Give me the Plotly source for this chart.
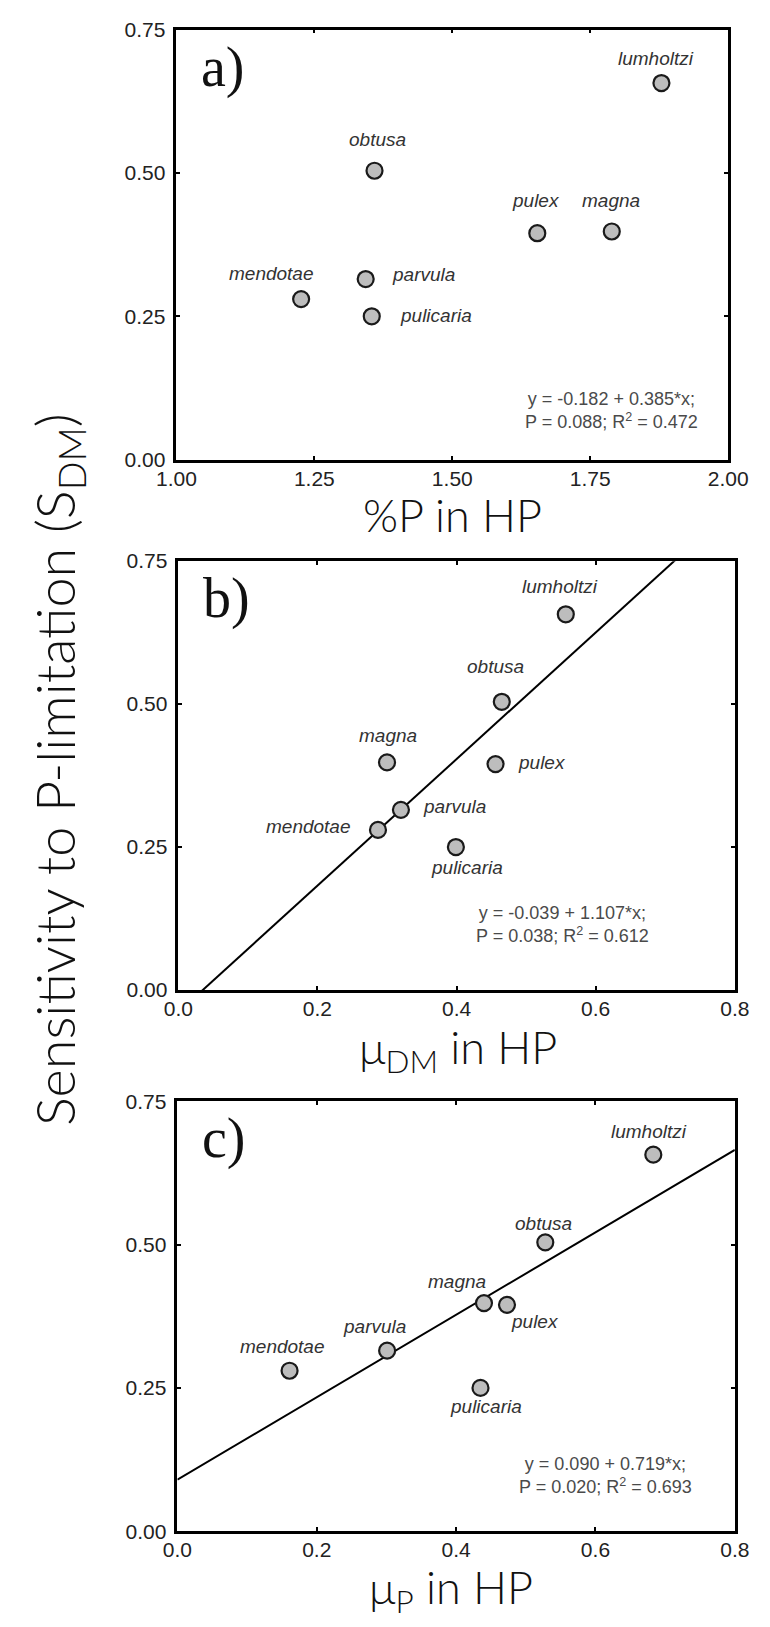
import plotly.graph_objects as go

# ---------------- data ----------------
species = ["lumholtzi", "obtusa", "magna", "pulex", "parvula", "mendotae", "pulicaria"]
s_dm = [0.657, 0.504, 0.398, 0.395, 0.315, 0.280, 0.250]          # Sensitivity to P-limitation
pct_p = [1.879, 1.359, 1.789, 1.654, 1.343, 1.226, 1.354]         # %P in HP
mu_dm = [0.557, 0.465, 0.300, 0.456, 0.320, 0.287, 0.399]         # mu_DM in HP
mu_p = [0.683, 0.528, 0.440, 0.473, 0.301, 0.161, 0.435]          # mu_P in HP

fit_b = (-0.039, 1.107)   # intercept, slope
fit_c = (0.090, 0.719)

stats_a = "y = -0.182 + 0.385*x;<br>P = 0.088; R<sup>2</sup> = 0.472"
stats_b = "y = -0.039 + 1.107*x;<br>P = 0.038; R<sup>2</sup> = 0.612"
stats_c = "y = 0.090 + 0.719*x;<br>P = 0.020; R<sup>2</sup> = 0.693"

y_ticks = [0.0, 0.25, 0.50, 0.75]
y_ticktext = ["0.00", "0.25", "0.50", "0.75"]
xa_ticks = [1.0, 1.25, 1.5, 1.75, 2.0]
xa_ticktext = ["1.00", "1.25", "1.50", "1.75", "2.00"]
xb_ticks = [0.0, 0.2, 0.4, 0.6, 0.8]
xb_ticktext = ["0.0", "0.2", "0.4", "0.6", "0.8"]

# ---------------- layout / style ----------------
W, H = 770, 1627

# label offsets in pixels (dx right, dy down, anchor)
offs_a = {"lumholtzi": (-5, -25, "center"), "obtusa": (3, -31, "center"), "magna": (-1, -31, "center"),
          "pulex": (-1, -33, "center"), "parvula": (24, -5, "left"), "mendotae": (-30, -26, "center"),
          "pulicaria": (26, -1, "left")}
offs_b = {"lumholtzi": (-6, -28, "center"), "obtusa": (-6, -35, "center"), "magna": (1, -27, "center"),
          "pulex": (20, -2, "left"), "parvula": (20, -3, "left"), "mendotae": (-25, -3, "right"),
          "pulicaria": (11, 20, "center")}
offs_c = {"lumholtzi": (-4, -23, "center"), "obtusa": (-2, -19, "center"), "magna": (-27, -22, "center"),
          "pulex": (28, 17, "center"), "parvula": (-13, -24, "center"), "mendotae": (-7, -24, "center"),
          "pulicaria": (6, 19, "center")}

panels = [
    dict(px=(165, 747), py=(18, 454), x=pct_p, xr=[1.0, 2.0], xt=xa_ticks, xtt=xa_ticktext, fit=None,
         offs=offs_a, letter="a)", stats=stats_a, stats_pos=(624, 404),
         title="%P in HP", title_pos=(456, 510)),
    dict(px=(167, 754), py=(557, 992), x=mu_dm, xr=[0.0, 0.8], xt=xb_ticks, xtt=xb_ticktext, fit=fit_b,
         offs=offs_b, letter="b)", stats=stats_b, stats_pos=(572, 926),
         title="μ<sub>DM</sub> in HP", title_pos=(462, 1053)),
    dict(px=(166, 754), py=(1105, 1541), x=mu_p, xr=[0.0, 0.8], xt=xb_ticks, xtt=xb_ticktext, fit=fit_c,
         offs=offs_c, letter="c)", stats=stats_c, stats_pos=(618, 1484),
         title="μ<sub>P</sub> in HP", title_pos=(455, 1601)),
]

tick_font = dict(family="Liberation Sans, Arial", size=21, color="#222222")
label_font = dict(family="Liberation Sans, Arial", size=19, color="#333333")
stats_font = dict(family="Liberation Sans, Arial", size=18, color="#4a4a4a")
title_font = dict(family="Lato, Open Sans", size=45, color="#111111", weight=300)
letter_font = dict(family="Liberation Serif, DejaVu Serif", size=56, color="#111111")

fig = go.Figure()
annotations = []
layout_axes = {}

for i, p in enumerate(panels, start=1):
    xa = "x" if i == 1 else f"x{i}"
    ya = "y" if i == 1 else f"y{i}"
    xkey = "xaxis" if i == 1 else f"xaxis{i}"
    ykey = "yaxis" if i == 1 else f"yaxis{i}"
    x0, x1 = p["px"]
    y0, y1 = p["py"]

    axis_common = dict(showline=True, linewidth=2.5, linecolor="black", mirror="ticks",
                       ticks="inside", ticklen=4, tickwidth=2, tickcolor="black",
                       showgrid=False, zeroline=False, tickfont=tick_font)
    layout_axes[xkey] = dict(domain=[x0 / W, x1 / W], range=p["xr"], anchor=ya,
                             tickmode="array", tickvals=p["xt"], ticktext=p["xtt"],
                             ticklabelstandoff=-2, **axis_common)
    layout_axes[ykey] = dict(domain=[1 - y1 / H, 1 - y0 / H], range=[0, 0.75], anchor=xa,
                             tickmode="array", tickvals=y_ticks, ticktext=y_ticktext,
                             ticklabelstandoff=4, **axis_common)

    if p["fit"] is not None:
        a, b = p["fit"]
        fx = [p["xr"][0], p["xr"][1]]
        fy = [a + b * v for v in fx]
        fig.add_trace(go.Scatter(x=fx, y=fy, mode="lines", line=dict(color="black", width=2),
                                 xaxis=xa, yaxis=ya, showlegend=False, hoverinfo="skip"))

    fig.add_trace(go.Scatter(x=p["x"], y=s_dm, mode="markers", xaxis=xa, yaxis=ya,
                             marker=dict(size=16, color="#bdbdbd", line=dict(color="#1a1a1a", width=2.2)),
                             showlegend=False, cliponaxis=False))

    for sp, xv, yv in zip(species, p["x"], s_dm):
        dx, dy, anc = p["offs"][sp]
        annotations.append(dict(x=xv, y=yv, xref=xa, yref=ya, text=f"<i>{sp}</i>", showarrow=False,
                                xanchor=anc, yanchor="middle", xshift=dx, yshift=-dy, font=label_font))

    annotations.append(dict(x=(x0 + 24) / W, y=1 - (y0 + 38) / H, xref="paper", yref="paper",
                            text=p["letter"], showarrow=False, xanchor="left", yanchor="middle",
                            font=letter_font))
    sx, sy = p["stats_pos"]
    annotations.append(dict(x=sx / W, y=1 - sy / H, xref="paper", yref="paper", text=p["stats"],
                            showarrow=False, xanchor="center", yanchor="middle", align="center",
                            font=stats_font))
    tx, ty = p["title_pos"]
    annotations.append(dict(x=tx / W, y=1 - ty / H, xref="paper", yref="paper", text=p["title"],
                            showarrow=False, xanchor="center", yanchor="middle", font=title_font))

annotations.append(dict(x=40 / W, y=1 - 768 / H, xref="paper", yref="paper",
                        text="Sensitivity to P-limitation (S<sub>DM</sub>)", textangle=-90,
                        showarrow=False, xanchor="center", yanchor="middle",
                        font=dict(family="Lato, Open Sans", size=54, color="#111111", weight=300)))

fig.update_layout(width=W, height=H, margin=dict(l=0, r=0, t=0, b=0),
                  paper_bgcolor="white", plot_bgcolor="white",
                  annotations=annotations, **layout_axes)

fig.write_html("out.html")
